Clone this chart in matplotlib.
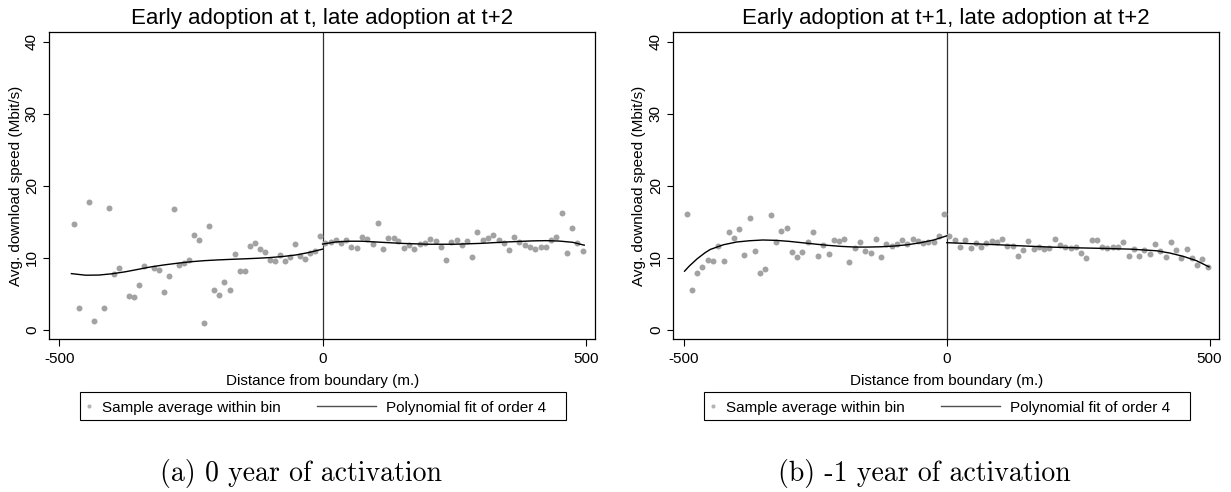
import matplotlib
matplotlib.use('Agg')
import matplotlib.pyplot as plt
from matplotlib.lines import Line2D
from matplotlib.patches import Rectangle

plt.rcParams['font.family'] = ['Liberation Sans', 'DejaVu Sans']
plt.rcParams['axes.unicode_minus'] = False

W, H = 1231, 492

# ---------------- data: panel (a) ----------------
a_x = [-472.8, -462.7, -443.7, -434.2, -415.2, -405.7, -396.2, -386.7, -367.7, -358.2,
       -348.7, -338.6, -319.6, -310.1, -300.6, -291.1, -281.6, -272.2, -262.7, -253.2,
       -243.7, -234.2, -224.7, -215.2, -205.7, -196.2, -186.7, -176.6, -167.1, -157.6,
       -148.1, -138.6, -129.1, -119.6, -110.1, -100.6, -91.1, -81.6, -72.2, -62.7,
       -52.5, -43.0, -33.5, -24.1, -14.6, -5.1,
       5.0, 15.1, 24.6, 34.7, 44.9, 54.4, 64.5, 74.6, 84.7, 94.9,
       104.4, 114.5, 124.6, 134.8, 144.2, 154.4, 164.5, 174.6, 184.8, 194.9,
       204.4, 214.5, 224.7, 234.2, 244.3, 254.4, 264.5, 274.6, 284.1, 294.2,
       304.4, 314.5, 324.6, 334.8, 344.2, 354.4, 364.5, 374.0, 384.1, 394.2,
       404.4, 414.5, 424.0, 434.1, 444.2, 454.4, 463.9, 474.0, 484.1, 494.3]
a_y = [14.65, 3.02, 17.77, 1.21, 3.02, 16.98, 7.81, 8.60, 4.74, 4.56,
       6.28, 8.88, 8.60, 8.33, 5.21, 7.53, 16.79, 9.02, 9.26, 9.72,
       13.21, 12.42, 0.93, 14.37, 5.58, 4.84, 6.60, 5.58, 10.51, 8.23,
       8.19, 11.63, 12.05, 11.16, 10.79, 9.67, 9.53, 10.33, 9.49, 10.14,
       11.86, 10.23, 9.86, 10.60, 10.98, 12.98,
       12.09, 12.23, 12.42, 12.09, 12.42, 11.49, 11.35, 12.88, 12.56, 11.95,
       14.84, 11.26, 12.70, 12.74, 12.28, 11.40, 11.77, 11.26, 11.91, 12.05,
       12.65, 12.33, 11.44, 9.63, 12.14, 12.42, 11.72, 12.37, 10.14, 13.63,
       12.47, 12.74, 13.21, 12.42, 12.09, 11.02, 12.88, 12.14, 11.77, 11.44,
       11.21, 11.44, 11.53, 12.47, 12.88, 16.23, 10.70, 14.14, 12.05, 10.98]

a_fitL_x = [-477, -450, -425, -400, -375, -350, -325, -300, -275, -250,
            -225, -200, -175, -150, -125, -100, -75, -50, -25, 0]
a_fitL_y = [7.80, 7.58, 7.60, 7.78, 8.05, 8.40, 8.75, 9.02, 9.25, 9.45,
            9.60, 9.70, 9.78, 9.85, 9.93, 10.03, 10.18, 10.40, 10.75, 11.20]
a_fitR_x = [0, 25, 50, 75, 100, 150, 200, 250, 300, 350, 400, 425, 450, 475, 497]
a_fitR_y = [11.90, 12.20, 12.30, 12.30, 12.20, 12.00, 11.88, 11.88, 12.00, 12.20,
            12.35, 12.38, 12.32, 12.15, 11.75]

# ---------------- data: panel (b) ----------------
b_x = [-494.9, -485.4, -474.6, -465.1, -455.0, -444.8, -435.3, -424.5, -415.0, -404.9,
       -394.7, -385.2, -375.1, -365.0, -355.4, -345.3, -335.1, -325.0, -314.8, -304.6,
       -294.5, -284.9, -274.8, -264.6, -255.1, -244.9, -234.8, -224.6, -215.1, -205.0,
       -194.9, -185.3, -175.2, -165.0, -154.9, -144.7, -135.2, -125.1, -114.9, -104.8,
       -94.6, -84.5, -74.9, -64.8, -54.6, -45.0, -34.9, -24.8, -14.7, -5.1,
       5.0, 15.2, 25.3, 35.5, 45.6, 55.8, 65.3, 75.5, 85.6, 95.8,
       105.3, 115.5, 125.6, 135.8, 145.3, 155.4, 165.6, 175.8, 185.9, 195.4,
       205.6, 215.7, 225.9, 236.0, 245.5, 255.7, 265.8, 276.0, 285.5, 295.6,
       305.8, 316.0, 326.1, 335.6, 345.8, 355.9, 366.1, 375.6, 385.8, 395.9,
       406.1, 416.2, 426.4, 435.9, 446.1, 456.2, 466.4, 475.9, 486.0, 496.2]
b_y = [16.14, 5.58, 7.86, 8.70, 9.72, 9.53, 11.63, 9.58, 13.63, 12.70,
       14.05, 10.33, 15.53, 10.93, 7.86, 8.42, 15.91, 12.19, 13.67, 14.19,
       10.84, 10.09, 10.79, 12.14, 13.53, 10.28, 11.77, 10.51, 12.42, 12.33,
       12.56, 9.44, 11.35, 12.23, 10.93, 10.70, 12.60, 10.09, 11.95, 11.67,
       11.86, 12.51, 11.91, 12.65, 12.33, 12.00, 12.19, 12.19, 12.98, 16.09,
       13.02, 12.42, 11.44, 12.42, 11.40, 12.00, 11.44, 12.05, 12.33, 12.19,
       12.60, 11.58, 11.58, 10.19, 11.12, 12.28, 11.16, 11.49, 11.21, 11.40,
       12.65, 11.81, 11.44, 11.30, 11.44, 10.65, 9.91, 12.42, 12.42, 11.53,
       11.35, 11.49, 11.44, 12.14, 10.19, 11.21, 10.23, 11.07, 10.47, 11.95,
       10.93, 10.14, 12.23, 11.02, 9.91, 11.21, 9.91, 8.93, 9.86, 8.74]

b_fitL_x = [-499, -490, -475, -460, -450, -425, -400, -375, -350, -325, -300, -275,
            -250, -225, -200, -175, -150, -125, -100, -75, -50, -25, 0]
b_fitL_y = [8.14, 8.85, 9.86, 10.70, 11.16, 11.81, 12.19, 12.37, 12.47, 12.42, 12.28, 12.09,
            11.90, 11.72, 11.58, 11.49, 11.49, 11.53, 11.63, 11.81, 12.09, 12.47, 13.05]
b_fitR_x = [0, 50, 100, 150, 200, 250, 300, 350, 400, 425, 450, 475, 499]
b_fitR_y = [12.10, 11.95, 11.80, 11.63, 11.48, 11.38, 11.30, 11.20, 10.97, 10.65, 10.20, 9.60, 8.74]

# ---------------- text ----------------
titles = ['Early adoption at t, late adoption at t+2',
          'Early adoption at t+1, late adoption at t+2']
captions = ['(a) 0 year of activation', '(b) -1 year of activation']
x_label = 'Distance from boundary (m.)'
y_label = 'Avg. download speed (Mbit/s)'
x_ticks = [-500, 0, 500]
x_tick_labels = ['-500', '0', '500']
y_ticks = [0, 10, 20, 30, 40]
y_tick_labels = ['0', '10', '20', '30', '40']
legend_labels = ['Sample average within bin', 'Polynomial fit of order 4']

fig = plt.figure(figsize=(W / 100, H / 100), dpi=100)


def fx(px):
    return px / W


def fy(py):
    return 1 - py / H


panels = [
    dict(left=49.3, right=595.3, xlim=(-519, 518), x=a_x, y=a_y,
         fl=(a_fitL_x, a_fitL_y), fr=(a_fitR_x, a_fitR_y), ylab_x=16,
         leg_left=80, cap_cx=301),
    dict(left=673.3, right=1219.0, xlim=(-520.4, 518), x=b_x, y=b_y,
         fl=(b_fitL_x, b_fitL_y), fr=(b_fitR_x, b_fitR_y), ylab_x=639.5,
         leg_left=704, cap_cx=924.5),
]
top_px, bot_px = 32.0, 339.0

for i, p in enumerate(panels):
    ax = fig.add_axes([fx(p['left']), fy(bot_px), (p['right'] - p['left']) / W,
                       (bot_px - top_px) / H])
    ax.axvline(0, color='#303030', lw=0.9, zorder=1)
    ax.plot(p['x'], p['y'], ls='none', marker='o', ms=4.3, mfc='#a2a2a2',
            mec='none', zorder=2, label=legend_labels[0])
    ax.plot(p['fl'][0], p['fl'][1], color='black', lw=1.0, zorder=3,
            label=legend_labels[1])
    ax.plot(p['fr'][0], p['fr'][1], color='black', lw=1.0, zorder=3)
    ax.set_xlim(*p['xlim'])
    ax.set_ylim(-1.28, 41.36)
    ax.set_xticks(x_ticks)
    ax.set_xticklabels(x_tick_labels)
    ax.set_yticks(y_ticks)
    ax.set_yticklabels(y_tick_labels, rotation=90, va='center')
    ax.tick_params(axis='x', direction='out', length=4.7, width=0.8, pad=5,
                   labelsize=11, color='black')
    ax.tick_params(axis='y', direction='out', length=4.5, width=0.8, pad=3,
                   labelsize=11, color='black')
    for s in ax.spines.values():
        s.set_linewidth(0.9)
        s.set_color('black')
    ax.set_title(titles[i], fontsize=16, pad=5.8)

    cx = (p['left'] + p['right']) / 2
    fig.text(fx(cx), fy(384.7), x_label, ha='center', va='baseline', fontsize=11)
    fig.text(fx(p['ylab_x']), fy((top_px + bot_px) / 2), y_label, rotation=90,
             ha='center', va='center', fontsize=11)

    # legend box (drawn in figure pixels)
    L = p['leg_left']
    fig.add_artist(Rectangle((fx(L), fy(420)), 486 / W, 28 / H,
                             transform=fig.transFigure, fill=False,
                             edgecolor='black', lw=0.8))
    fig.add_artist(Line2D([fx(L + 9)], [fy(406)], marker='o', ms=3,
                          mfc='#b4b4b4', mec='none', ls='none',
                          transform=fig.transFigure))
    fig.text(fx(L + 21.7), fy(412), legend_labels[0], ha='left', va='baseline',
             fontsize=11)
    fig.add_artist(Line2D([fx(L + 236.7), fx(L + 295.7)], [fy(406), fy(406)],
                          color='#505050', lw=1.0, transform=fig.transFigure))
    fig.text(fx(L + 306), fy(412), legend_labels[1], ha='left', va='baseline',
             fontsize=11)

    fig.text(fx(p['cap_cx']), fy(481), captions[i], ha='center', va='baseline',
             fontsize=20, family='cmr10')

fig.savefig('out.png', dpi=100)
